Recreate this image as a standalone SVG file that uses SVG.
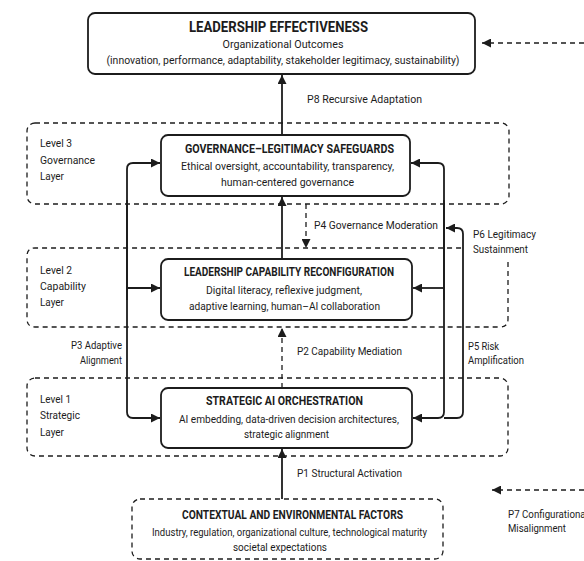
<svg xmlns="http://www.w3.org/2000/svg" width="584" height="561" viewBox="0 0 584 561">
<style>
text{font-family:Roboto,"Liberation Sans",sans-serif;fill:#1c1c1c}
.t{font-weight:bold;font-size:12px;text-anchor:middle}
.b{font-size:11.5px;text-anchor:middle}
.l{font-size:11.5px}
.node{fill:#fff;stroke:#1c1c1c;stroke-width:1.8}
.layer{fill:none;stroke:#1c1c1c;stroke-width:1.3;stroke-dasharray:5 4}
.c{fill:none;stroke:#1c1c1c;stroke-width:1.8}
.d{fill:none;stroke:#1c1c1c;stroke-width:1.3;stroke-dasharray:5 4}
</style>
<defs>
<marker id="ah" viewBox="0 0 10 10" refX="10" refY="5" markerWidth="9" markerHeight="9" markerUnits="userSpaceOnUse" orient="auto">
<path d="M0,0 L10,5 L0,10 z" fill="#1c1c1c"/>
</marker>
</defs>
<rect width="584" height="561" fill="#fff"/>

<g id="layer3">
<rect class="layer" x="27" y="123" width="482" height="81" rx="8"/>
<text class="l" x="40" y="147" textLength="32" lengthAdjust="spacingAndGlyphs">Level 3</text>
<text class="l" x="40" y="164" textLength="55" lengthAdjust="spacingAndGlyphs">Governance</text>
<text class="l" x="40" y="180" textLength="24" lengthAdjust="spacingAndGlyphs">Layer</text>
</g>
<g id="layer2">
<path class="layer" d="M508,262 V319 Q508,327 500,327 H35 Q27,327 27,319 V256 Q27,248 35,248 H463"/>
<text class="l" x="40" y="274" textLength="32" lengthAdjust="spacingAndGlyphs">Level 2</text>
<text class="l" x="40" y="290" textLength="46" lengthAdjust="spacingAndGlyphs">Capability</text>
<text class="l" x="40" y="306" textLength="24" lengthAdjust="spacingAndGlyphs">Layer</text>
</g>
<g id="layer1">
<rect class="layer" x="27" y="378" width="481" height="78" rx="8"/>
<text class="l" x="40" y="403" textLength="31" lengthAdjust="spacingAndGlyphs">Level 1</text>
<text class="l" x="40" y="419" textLength="40" lengthAdjust="spacingAndGlyphs">Strategic</text>
<text class="l" x="40" y="436" textLength="24" lengthAdjust="spacingAndGlyphs">Layer</text>
</g>

<g id="connectors">
<path class="c" d="M282,135 V75" marker-end="url(#ah)"/>
<path class="c" d="M282,259 V197" marker-end="url(#ah)"/>
<path class="d" d="M282,388 V328" marker-end="url(#ah)"/>
<path class="c" d="M282,499 V449" marker-end="url(#ah)"/>
<path class="d" d="M306,204 V248" marker-end="url(#ah)"/>
<path class="c" d="M127,300 V169 Q127,163 133,163 H160" marker-end="url(#ah)"/>
<path class="c" d="M127,288 H160" marker-end="url(#ah)"/>
<path class="c" d="M127,200 V412 Q127,418 133,418 H160" marker-end="url(#ah)"/>
<path class="c" d="M444,300 V169 Q444,163 438,163 H411" marker-end="url(#ah)"/>
<path class="c" d="M444,288 H413" marker-end="url(#ah)"/>
<path class="c" d="M444,200 V412 Q444,418 438,418 H413" marker-end="url(#ah)"/>
<path class="c" d="M444,418 H457 Q463,418 463,412 V234 Q463,228 457,228 H446" marker-end="url(#ah)"/>
<path class="d" d="M584,43 H482" marker-end="url(#ah)"/>
<path class="d" d="M584,490 H492" marker-end="url(#ah)"/>
<text class="l" x="307" y="103" textLength="115" lengthAdjust="spacingAndGlyphs">P8 Recursive Adaptation</text>
<text class="l" x="314" y="229" textLength="124" lengthAdjust="spacingAndGlyphs">P4 Governance Moderation</text>
<text class="l" x="473" y="238" textLength="63" lengthAdjust="spacingAndGlyphs">P6 Legitimacy</text>
<text class="l" x="473" y="253" textLength="55" lengthAdjust="spacingAndGlyphs">Sustainment</text>
<text class="l" x="71" y="349" textLength="51" lengthAdjust="spacingAndGlyphs">P3 Adaptive</text>
<text class="l" x="80" y="364" textLength="42" lengthAdjust="spacingAndGlyphs">Alignment</text>
<text class="l" x="297" y="355" textLength="105" lengthAdjust="spacingAndGlyphs">P2 Capability Mediation</text>
<text class="l" x="468" y="350" textLength="31" lengthAdjust="spacingAndGlyphs">P5 Risk</text>
<text class="l" x="468" y="364" textLength="56" lengthAdjust="spacingAndGlyphs">Amplification</text>
<text class="l" x="297" y="477" textLength="105" lengthAdjust="spacingAndGlyphs">P1 Structural Activation</text>
<text class="l" x="508" y="518" textLength="80" lengthAdjust="spacingAndGlyphs">P7 Configurational</text>
<text class="l" x="508" y="532" textLength="58" lengthAdjust="spacingAndGlyphs">Misalignment</text>
</g>

<g id="effectiveness">
<rect class="node" x="88" y="13" width="387" height="61" rx="7"/>
<text class="t" x="278.5" y="32" style="font-size:15px" textLength="179" lengthAdjust="spacingAndGlyphs">LEADERSHIP EFFECTIVENESS</text>
<text class="b" x="283" y="48" textLength="121" lengthAdjust="spacingAndGlyphs">Organizational Outcomes</text>
<text class="b" x="283" y="64" textLength="353" lengthAdjust="spacingAndGlyphs">(innovation, performance, adaptability, stakeholder legitimacy, sustainability)</text>
</g>
<g id="governance">
<rect class="node" x="161" y="135" width="249" height="61" rx="7"/>
<text class="t" x="289.5" y="153" textLength="209" lengthAdjust="spacingAndGlyphs">GOVERNANCE–LEGITIMACY SAFEGUARDS</text>
<text class="b" x="287.5" y="170" textLength="213" lengthAdjust="spacingAndGlyphs">Ethical oversight, accountability, transparency,</text>
<text class="b" x="287.5" y="186" textLength="133" lengthAdjust="spacingAndGlyphs">human-centered governance</text>
</g>
<g id="capability">
<rect class="node" x="161" y="259" width="251" height="61" rx="7"/>
<text class="t" x="289" y="276" textLength="210" lengthAdjust="spacingAndGlyphs">LEADERSHIP CAPABILITY RECONFIGURATION</text>
<text class="b" x="284" y="294" textLength="156" lengthAdjust="spacingAndGlyphs">Digital literacy, reflexive judgment,</text>
<text class="b" x="284.5" y="310" textLength="191" lengthAdjust="spacingAndGlyphs">adaptive learning, human–AI collaboration</text>
</g>
<g id="strategic">
<rect class="node" x="161" y="388" width="251" height="60" rx="7"/>
<text class="t" x="284.5" y="405" textLength="157" lengthAdjust="spacingAndGlyphs">STRATEGIC AI ORCHESTRATION</text>
<text class="b" x="289" y="423" textLength="220" lengthAdjust="spacingAndGlyphs">AI embedding, data-driven decision architectures,</text>
<text class="b" x="286.5" y="438" textLength="85" lengthAdjust="spacingAndGlyphs">strategic alignment</text>
</g>
<g id="context">
<rect class="layer" x="132" y="499" width="311" height="60" rx="8"/>
<text class="t" x="292.5" y="519" textLength="221" lengthAdjust="spacingAndGlyphs">CONTEXTUAL AND ENVIRONMENTAL FACTORS</text>
<text class="b" x="289.5" y="536" textLength="275" lengthAdjust="spacingAndGlyphs">Industry, regulation, organizational culture, technological maturity</text>
<text class="b" x="280" y="551" textLength="94" lengthAdjust="spacingAndGlyphs">societal expectations</text>
</g>
</svg>
